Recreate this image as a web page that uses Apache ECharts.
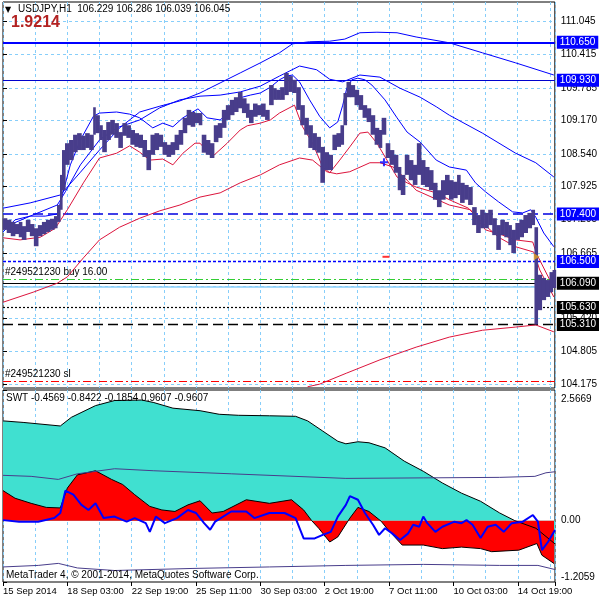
<!DOCTYPE html>
<html><head><meta charset="utf-8">
<script src="https://cdn.jsdelivr.net/npm/echarts@6/dist/echarts.min.js"></script>
<style>html,body{margin:0;padding:0;background:#fff}#c{width:600px;height:600px}</style>
</head><body><div id="c"></div>
<script>
// ---------- data ----------
const xLabels = ['15 Sep 2014','18 Sep 03:00','22 Sep 19:00','25 Sep 11:00','30 Sep 03:00','2 Oct 19:00','7 Oct 11:00','10 Oct 03:00','14 Oct 19:00'];
const priceTicks = [104.175,104.805,105.420,106.035,106.665,107.295,107.925,108.540,109.170,109.785,110.415,111.045];
const priceTickLabels = ['104.175','104.805','105.420','106.035','106.665','107.295','107.925','108.540','109.170','109.785','110.415','111.045'];
const swtTicks = [2.5669, 0, -1.2059];
const swtTickLabels = ['2.5669','0.00','-1.2059'];
const headerOHLC = ['106.229','106.286','106.039','106.045'];
const swtLast = ['-0.4569','-0.8422','-0.1854','0.9607','-0.9607'];

// [bar, low, high]
const priceBars = [
[0,107.10,107.32],[4,107.04,107.29],[8,106.98,107.25],[12,107.02,107.21],[16,106.96,107.25],[19,106.91,107.17],
[23,107.06,107.29],[27,106.98,107.21],[31,106.79,107.13],[35,106.98,107.19],[39,107.02,107.25],[43,107.06,107.29],
[47,107.10,107.31],[51,107.13,107.36],[54,107.25,107.57],[57,107.48,108.14],[59,107.85,108.61],[62,108.33,108.74],
[66,108.42,108.80],[70,108.57,108.90],[74,108.61,108.93],[78,108.61,108.88],[82,108.65,108.93],[86,108.61,108.90],
[90,108.90,109.42],[92,108.93,109.27],[96,108.80,109.08],[99,108.57,108.99],[103,108.80,109.14],[107,108.90,109.18],
[111,108.84,109.12],[115,108.65,108.95],[119,108.88,109.12],[123,108.84,109.08],[127,108.71,108.99],[131,108.67,108.93],
[135,108.65,108.90],[139,108.48,108.80],[143,108.23,108.61],[147,108.52,108.90],[151,108.61,108.93],[155,108.67,108.90],
[159,108.52,108.76],[163,108.48,108.71],[167,108.52,108.76],[171,108.61,108.90],[175,108.71,108.99],[179,108.93,109.22],
[183,109.08,109.37],[187,109.05,109.33],[191,109.12,109.31],[195,109.08,109.31],[198,108.56,108.90],[202,108.52,108.80],
[206,108.46,108.74],[210,108.76,109.08],[214,108.84,109.12],[218,109.03,109.37],[222,109.18,109.46],[226,109.27,109.56],
[230,109.33,109.61],[234,109.40,109.71],[238,109.31,109.59],[242,109.22,109.49],[245,109.12,109.37],[249,109.24,109.49],
[253,109.27,109.46],[257,109.24,109.49],[261,109.18,109.37],[265,109.46,109.84],[269,109.56,109.78],[272,109.56,109.75],
[276,109.56,109.80],[280,109.65,110.07],[284,109.71,110.01],[288,109.69,109.94],[292,109.37,109.80],[296,109.08,109.46],
[300,108.90,109.22],[304,108.65,109.08],[308,108.61,108.93],[312,108.56,108.86],[316,107.99,108.67],[320,108.23,108.57],
[324,108.23,108.52],[328,108.61,108.90],[332,108.67,108.93],[336,108.71,109.08],[339,109.08,109.69],[342,109.61,109.90],
[346,109.61,109.84],[350,109.46,109.75],[354,109.37,109.65],[358,109.22,109.46],[362,109.14,109.40],[366,108.90,109.27],
[370,108.71,109.03],[374,108.65,108.99],[377,108.90,109.22],[381,108.46,108.74],[385,108.33,108.61],[389,108.18,108.52],
[393,107.85,108.29],[396,107.76,108.14],[400,108.14,108.52],[404,108.04,108.42],[408,107.95,108.33],[412,108.14,108.74],
[416,107.95,108.42],[420,107.91,108.29],[424,107.85,108.23],[428,107.67,107.99],[432,107.53,107.85],[436,107.67,108.04],
[440,107.76,108.14],[444,107.67,108.04],[448,107.70,108.01],[452,107.76,108.14],[455,107.61,107.99],[459,107.67,107.95],
[463,107.57,107.91],[467,107.19,107.53],[471,107.04,107.38],[475,107.13,107.48],[479,107.13,107.42],[483,107.19,107.48],
[487,107.00,107.32],[491,106.72,107.19],[495,107.00,107.29],[499,106.96,107.25],[503,106.81,107.19],[506,106.66,107.10],
[510,106.91,107.23],[514,106.96,107.29],[518,107.04,107.38],[522,107.13,107.42],[526,107.19,107.48],[529,105.31,107.15],
[532,105.58,106.25],[536,105.77,106.19],[540,105.83,106.15],[544,105.92,106.30],[547,106.00,106.34]
];

// envelope lines [bar, price]
const upperLong = [[0,107.51],[27,107.61],[57,107.76],[77,108.19],[96,108.61],[116,109.03],[136,109.33],[156,109.44],[176,109.54],[196,109.69],[216,109.88],[236,110.07],[256,110.26],[275,110.45],[288,110.62],[305,110.66],[325,110.67],[340,110.71],[355,110.83],[372,110.84],[392,110.83],[411,110.75],[444,110.64],[477,110.45],[510,110.26],[548,110.03]];
const upperMid = [[0,107.14],[27,107.36],[54,107.57],[62,107.82],[77,108.33],[96,108.80],[113,109.03],[136,109.18],[156,109.41],[176,109.56],[196,109.63],[216,109.65],[236,109.71],[256,109.82],[275,110.01],[295,110.20],[312,110.13],[325,109.95],[338,109.90],[355,110.03],[375,109.99],[395,109.78],[415,109.61],[431,109.43],[444,109.27],[477,108.93],[510,108.55],[530,108.37],[548,108.10]];
const upperShort = [[0,107.06],[12,107.29],[27,107.36],[42,107.36],[54,107.40],[59,107.76],[67,108.33],[77,108.80],[90,109.25],[96,109.31],[113,109.33],[126,109.29],[136,109.22],[149,109.03],[159,109.12],[169,109.05],[179,109.22],[194,109.39],[203,109.22],[216,109.18],[224,109.31],[236,109.60],[246,109.65],[256,109.69],[266,109.80],[275,109.94],[282,110.01],[288,110.03],[295,109.90],[305,109.56],[315,109.25],[325,109.03],[333,109.14],[338,109.46],[342,109.78],[347,109.94],[353,109.97],[360,109.94],[367,109.84],[380,109.56],[392,109.22],[402,108.95],[415,108.76],[431,108.42],[444,108.29],[461,108.23],[470,107.99],[480,107.82],[493,107.63],[507,107.44],[517,107.42],[525,107.48],[530,107.34],[538,107.04],[548,106.78]];
const lowerShort = [[0,106.95],[17,106.91],[37,106.96],[52,107.13],[64,107.48],[80,107.99],[96,108.46],[113,108.55],[126,108.69],[136,108.57],[146,108.42],[159,108.44],[169,108.33],[179,108.55],[191,108.74],[196,108.74],[208,108.48],[223,108.74],[236,108.99],[243,109.07],[256,109.12],[266,109.18],[275,109.31],[290,109.46],[298,109.05],[308,108.74],[318,108.29],[325,108.18],[335,108.42],[345,108.67],[355,108.93],[363,108.95],[372,108.74],[382,108.42],[392,108.10],[402,107.99],[411,107.91],[431,107.80],[444,107.67],[463,107.51],[477,107.23],[493,106.96],[510,106.78],[528,106.68],[534,106.34],[548,105.83]];
const lowerMid = [[0,105.73],[30,105.92],[54,106.09],[64,106.21],[80,106.57],[96,106.91],[116,107.15],[136,107.32],[156,107.46],[176,107.57],[196,107.72],[216,107.80],[236,107.99],[256,108.14],[275,108.33],[295,108.46],[308,108.42],[322,108.20],[332,108.16],[345,108.20],[365,108.37],[375,108.37],[388,108.29],[402,108.04],[411,107.85],[444,107.57],[465,107.48],[480,107.10],[497,107.00],[510,106.91],[527,106.87],[531,106.64],[548,106.00]];
const lowerLong = [[303,104.13],[315,104.18],[342,104.39],[375,104.64],[411,104.88],[444,105.07],[477,105.20],[510,105.26],[530,105.30],[548,105.17]];

// horizontal levels
const levelValues = [110.650, 109.930, 107.400, 106.500, 106.090, 105.630, 105.310];
const bidLine = 106.035;
const buyLevel = 106.16;
const slLevel = 104.24;
const orderTicket = '#249521230';
const orderLots = '16.00';
const redDash = [381, 106.59];
const bluePlus = [379, 108.38];
const orangeMark = [531, 106.59];

// SWT panel [bar, value]
const swtCyan = [[0,1.96],[20,1.93],[57,1.86],[68,2.03],[92,2.26],[111,2.36],[138,2.37],[150,2.32],[169,2.21],[196,2.16],[215,2.09],[234,2.07],[265,2.06],[291,2.05],[303,1.96],[318,1.76],[333,1.56],[341,1.51],[353,1.55],[364,1.53],[380,1.43],[399,1.17],[418,0.97],[437,0.74],[456,0.54],[475,0.38],[494,0.15],[509,0.00],[530,-0.15],[549,-0.4569]];
const swtRed = [[0,0.59],[12,0.44],[28,0.34],[43,0.26],[57,0.25],[64,0.64],[74,0.90],[92,0.98],[108,0.81],[119,0.71],[131,0.51],[146,0.28],[158,0.21],[171,0.18],[184,0.31],[196,0.39],[208,0.15],[219,0.18],[242,0.41],[265,0.34],[287,0.41],[299,0.21],[307,0.00],[314,-0.15],[325,-0.42],[333,-0.32],[345,0.05],[353,0.26],[364,0.18],[376,-0.01],[383,-0.18],[397,-0.48],[418,-0.48],[437,-0.55],[456,-0.52],[475,-0.55],[486,-0.61],[513,-0.58],[531,-0.45],[536,-0.68],[548,-0.8422]];
const swtBlue = [[0,0.01],[16,-0.02],[35,-0.02],[51,0.05],[57,0.15],[62,0.59],[70,0.51],[78,0.31],[85,0.21],[92,0.34],[100,0.05],[111,0.08],[123,-0.02],[131,0.05],[142,-0.05],[146,-0.22],[152,0.08],[161,-0.05],[173,0.05],[184,0.21],[192,0.15],[200,-0.05],[206,-0.18],[211,-0.02],[227,0.18],[242,0.18],[250,0.05],[265,0.15],[280,0.15],[291,0.05],[299,-0.35],[310,-0.35],[318,-0.28],[326,-0.22],[333,0.08],[341,0.31],[345,0.48],[353,0.41],[360,0.15],[368,-0.08],[374,-0.28],[380,-0.15],[387,-0.25],[395,-0.38],[403,-0.25],[408,-0.08],[414,-0.12],[418,0.08],[422,-0.05],[430,-0.22],[437,-0.12],[449,-0.02],[456,-0.05],[461,0.01],[467,-0.08],[475,-0.34],[482,-0.12],[490,-0.08],[498,-0.22],[506,-0.05],[517,-0.02],[527,0.11],[532,-0.02],[536,-0.58],[542,-0.42],[549,-0.1854]];
const swtUpper = [[0,0.89],[28,0.87],[55,0.81],[74,0.92],[111,1.02],[150,0.98],[227,0.92],[341,0.83],[418,0.84],[494,0.85],[529,0.87],[540,0.94],[549,0.9607]];
const swtLower = [[0,-0.91],[35,-0.88],[55,-0.84],[74,-0.93],[111,-0.98],[188,-0.94],[265,-0.91],[341,-0.88],[418,-0.86],[494,-0.88],[532,-0.88],[549,-0.9607]];

// ---------- chart ----------
const FONT = 'Liberation Sans';
const GRID_C = '#87cefa';
const chart = echarts.init(document.getElementById('c'), null, {renderer:'canvas'});

function nearestLabel(vals, labels, v){
  let bi = 0, bd = Infinity;
  vals.forEach((t,i)=>{ const d = Math.abs(t-v); if (d < bd){bd = d; bi = i;} });
  return bd < 1e-6 ? labels[bi] : '';
}

const levelStyles = [
  {color:'#0000ff', width:2, type:'solid', bg:'#0000ff'},
  {color:'#0000cd', width:1, type:'solid', bg:'#0000ff'},
  {color:'#0000e0', width:1.5, type:[10,5], bg:'#0000ff'},
  {color:'#0000ff', width:1.3, type:[3,2], bg:'#0000ff'},
  {color:'#000000', width:1, type:'solid', bg:'#000000'},
  {color:'#000000', width:1.2, type:[2,2], bg:'#000000'},
  {color:'#000000', width:1.3, type:[10,5], bg:'#000000'}
];
const levelLines = levelValues.map((v,i)=>({
  yAxis: v,
  lineStyle: {color: levelStyles[i].color, width: levelStyles[i].width, type: levelStyles[i].type},
  label: {show:true, position:'end', distance:2, formatter: v.toFixed(3), color:'#fff',
          backgroundColor: levelStyles[i].bg, padding:[2,3,1,3], fontSize:10, fontFamily:FONT, lineHeight:10}
}));
levelLines.push({yAxis: bidLine, lineStyle:{color:'#87cefa', width:1.5, type:'solid'}, label:{show:false}});
levelLines.push({yAxis: buyLevel, lineStyle:{color:'#32cd32', width:1, type:[8,3,2,3]},
  label:{show:true, position:'insideStartTop', distance:2, formatter: orderTicket + ' buy ' + orderLots, color:'#000', fontSize:10, fontFamily:FONT}});
levelLines.push({yAxis: slLevel, lineStyle:{color:'#ff0000', width:1, type:[8,3,2,3]},
  label:{show:true, position:'insideStartTop', distance:2, formatter: orderTicket + ' sl', color:'#000', fontSize:10, fontFamily:FONT}});

function lineS(data, color, width, xi, yi, extra){
  return Object.assign({type:'line', data, xAxisIndex:xi, yAxisIndex:yi, showSymbol:false, symbol:'none',
    lineStyle:{color, width}, itemStyle:{color}, silent:true, z:3}, extra||{});
}

const option = {
  animation:false,
  textStyle:{fontFamily:FONT},
  backgroundColor:'#fff',
  grid:[
    {left:3, right:45, top:2, height:386, show:true, borderColor:'#000', borderWidth:1, backgroundColor:'#fff'},
    {left:3, right:45, top:390, height:192, show:true, borderColor:'#000', borderWidth:1, backgroundColor:'#fff'}
  ],
  xAxis:[
    {gridIndex:0, type:'value', min:0, max:549, interval:32, axisLine:{show:false}, axisTick:{show:false}, axisLabel:{show:false},
     splitLine:{show:true, lineStyle:{color:GRID_C, type:[3,3], width:1}}},
    {gridIndex:1, type:'value', min:0, max:549, interval:32, axisLine:{show:false}, axisTick:{show:false}, axisLabel:{show:false},
     splitLine:{show:true, lineStyle:{color:GRID_C, type:[3,3], width:1}}},
    {gridIndex:1, type:'value', min:0, max:549, interval:64, position:'bottom', axisLine:{show:false},
     axisTick:{show:true, length:4, lineStyle:{color:'#000'}},
     axisLabel:{show:true, margin:4, align:'left', color:'#000', fontSize:9.5, fontFamily:FONT,
       formatter:(v)=> (Number.isInteger(v/64) && xLabels[v/64]) ? xLabels[v/64] : ''},
     splitLine:{show:false}}
  ],
  yAxis:[
    {gridIndex:0, type:'value', position:'right', min:104.107, max:111.412, axisLine:{show:false},
     axisTick:{show:true, length:4, customValues:priceTicks, lineStyle:{color:'#000'}},
     axisLabel:{show:true, customValues:priceTicks, margin:6, color:'#000', fontSize:10, fontFamily:FONT,
       formatter:(v)=>nearestLabel(priceTicks, priceTickLabels, v)},
     splitLine:{show:true, lineStyle:{color:GRID_C, type:[3,3], width:1}}},
    {gridIndex:1, type:'value', position:'right', min:-1.2059, max:2.5669, axisLine:{show:false},
     axisTick:{show:true, length:4, customValues:swtTicks, lineStyle:{color:'#000'}},
     axisLabel:{show:true, customValues:swtTicks, margin:6, color:'#000', fontSize:10, fontFamily:FONT,
       formatter:(v)=>{
         const s = nearestLabel(swtTicks, swtTickLabels, v);
         if (v > 1) return '{t|' + s + '}';
         if (v < -1) return '{b|' + s + '}';
         return s;
       },
       rich:{t:{padding:[18,0,0,0], fontSize:10, color:'#000'}, b:{padding:[0,0,10,0], fontSize:10, color:'#000'}}},
     splitLine:{show:false}}
  ],
  series:[
    lineS(lowerLong, '#dc143c', 1, 0, 0, {markLine:{silent:true, symbol:['none','none'], animation:false, data: levelLines, z:2}}),
    lineS(upperLong, '#0000ff', 1, 0, 0),
    lineS(upperMid, '#0000ff', 1, 0, 0),
    lineS(lowerMid, '#dc143c', 1, 0, 0),
    lineS(upperShort, '#0000ff', 1, 0, 0),
    lineS(lowerShort, '#dc143c', 1, 0, 0),
    {type:'custom', xAxisIndex:0, yAxisIndex:0, data:priceBars, encode:{x:0, y:[1,2]}, z:5, silent:true,
     renderItem:(params, api)=>{
       const i = params.dataIndex;
       const x = api.value(0), lo = api.value(1), hi = api.value(2);
       const next = priceBars[i+1] ? priceBars[i+1][0] : x + 3;
       const p1 = api.coord([x, hi]), p2 = api.coord([x, lo]);
       const w = api.size([next - x, 0])[0] + 0.6;
       return {type:'rect', shape:{x:p1[0]-0.3, y:p1[1], width:w, height:Math.max(1, p2[1]-p1[1])},
               style:{fill:'#483d8b'}};
     }},
    {type:'scatter', xAxisIndex:0, yAxisIndex:0, data:[redDash], symbol:'rect', symbolSize:[7,2], itemStyle:{color:'#ff0000'}, z:6, silent:true},
    {type:'scatter', xAxisIndex:0, yAxisIndex:0, data:[bluePlus], symbol:'path://M3,0h2v3h3v2h-3v3h-2v-3h-3v-2h3z', symbolSize:8, itemStyle:{color:'#0000ff'}, z:6, silent:true},
    {type:'scatter', xAxisIndex:0, yAxisIndex:0, data:[orangeMark], symbol:'triangle', symbolRotate:-90, symbolSize:[7,6], itemStyle:{color:'#e0a020'}, z:6, silent:true},

    // SWT panel
    lineS(swtCyan, '#40e0d0', 0, 1, 1, {areaStyle:{color:'#40e0d0', opacity:1}, lineStyle:{width:0}, z:2}),
    lineS(swtRed, '#000000', 1, 1, 1, {areaStyle:{color:'#ff0000', opacity:1}, z:3}),
    lineS(swtCyan, '#000000', 1, 1, 1, {z:4}),
    lineS(swtUpper, '#483d8b', 1, 1, 1, {z:4}),
    lineS(swtLower, '#483d8b', 1, 1, 1, {z:4}),
    lineS(swtBlue, '#0000ff', 2, 1, 1, {z:5})
  ],
  graphic:[
    {type:'text', left:5, top:6, z:100, style:{text:'▼', font:'8px "DejaVu Sans"', fill:'#000'}},
    {type:'text', left:18, top:4, z:100, style:{text:'USDJPY,H1  ' + headerOHLC.join(' '), font:'10px "Liberation Sans"', fill:'#000'}},
    {type:'text', left:11, top:15, z:100, style:{text:'1.9214', font:'bold 16px "Liberation Sans"', fill:'#b22222'}},
    {type:'text', left:6, top:393, z:100, style:{text:'SWT ' + swtLast.join(' '), font:'10px "Liberation Sans"', fill:'#000'}},
    {type:'text', left:6, top:570, z:100, style:{text:'MetaTrader 4, \u00a9 2001-2014, MetaQuotes Software Corp.', font:'10px "Liberation Sans"', fill:'#000'}}
  ]
};
chart.setOption(option);
</script>
</body></html>
